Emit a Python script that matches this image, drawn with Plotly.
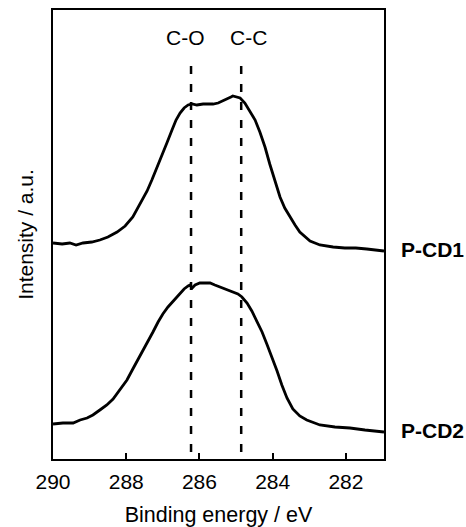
import plotly.graph_objects as go

# Binding energy (eV) and intensity (a.u.)
be_cd1 = [290.00, 289.75, 289.54, 289.37, 289.18, 288.94, 288.72, 288.50, 288.25, 288.03,
          287.82, 287.60, 287.43, 287.30, 287.16, 287.02, 286.89, 286.75, 286.64, 286.53,
          286.42, 286.31, 286.20, 286.07, 285.90, 285.77, 285.63, 285.49, 285.36, 285.22,
          285.14, 285.09, 285.00, 284.89, 284.76, 284.62, 284.48, 284.35, 284.21, 284.08,
          283.94, 283.80, 283.67, 283.53, 283.39, 283.26, 283.12, 282.98, 282.71, 282.35,
          282.03, 281.73, 281.43, 281.18, 280.96]
int_cd1 = [216, 215, 216, 214, 216, 217, 219, 222, 227, 233,
           242, 256, 268, 279, 291, 303, 316, 329, 339, 346,
           351, 354, 355, 354, 355, 355, 355, 356, 358, 360,
           362, 363, 362, 361, 356, 348, 339, 327, 312, 295,
           278, 262, 251, 242, 234, 227, 222, 218, 214, 212,
           211, 211, 210, 209, 208]

be_cd2 = [290.00, 289.73, 289.45, 289.26, 289.07, 288.91, 288.72, 288.53, 288.36, 288.17,
          287.98, 287.82, 287.62, 287.43, 287.27, 287.13, 287.00, 286.86, 286.72, 286.61,
          286.53, 286.42, 286.31, 286.26, 286.20, 286.12, 285.99, 285.85, 285.71, 285.58,
          285.44, 285.25, 285.09, 284.95, 284.84, 284.70, 284.57, 284.43, 284.29, 284.16,
          284.02, 283.88, 283.75, 283.61, 283.45, 283.26, 283.07, 282.71, 282.30, 281.89,
          281.48, 280.96]
int_cd2 = [35, 36, 36, 39, 41, 44, 49, 54, 60, 69,
           79, 90, 103, 116, 127, 137, 145, 152, 158, 163,
           166, 170, 173, 174, 171, 174, 176, 176, 176, 174,
           172, 170, 167, 165, 162, 156, 148, 138, 127, 115,
           102, 88, 74, 61, 50, 43, 39, 34, 32, 31,
           29, 27]

series_names = ["P-CD1", "P-CD2"]
series_label_y = [210, 29]

ref_energies = [286.23, 284.86]
ref_labels = ["C-O", "C-C"]
ref_label_x = [286.39, 284.67]

tick_vals = [290, 288, 286, 284, 282]
tick_text = ["290", "288", "286", "284", "282"]

FONT = "Liberation Sans, Arial, sans-serif"

fig = go.Figure()
for xs, ys in [(be_cd1, int_cd1), (be_cd2, int_cd2)]:
    fig.add_trace(go.Scatter(x=xs, y=ys, mode="lines",
                             line=dict(color="black", width=2.8),
                             showlegend=False, hoverinfo="skip"))

for e in ref_energies:
    fig.add_shape(type="line", xref="x", yref="y", x0=e, x1=e, y0=7, y1=399,
                  line=dict(color="black", width=2.5, dash="8px,10px"))

for lx, lt in zip(ref_label_x, ref_labels):
    fig.add_annotation(x=lx, y=422, xref="x", yref="y", text=lt, showarrow=False,
                       font=dict(family=FONT, size=21, color="black"))

for name, ly in zip(series_names, series_label_y):
    fig.add_annotation(x=1.044, y=ly, xref="paper", yref="y", text="<b>%s</b>" % name,
                       showarrow=False, xanchor="left",
                       font=dict(family=FONT, size=21, color="black"))

fig.update_layout(
    width=466, height=527,
    margin=dict(l=53, r=82, t=10, b=68),
    paper_bgcolor="white", plot_bgcolor="white",
    font=dict(family=FONT, size=21, color="black"),
)
fig.update_xaxes(range=[290, 280.96], tickvals=tick_vals, ticktext=tick_text,
                 ticks="inside", ticklen=6, tickwidth=2, tickcolor="black",
                 ticklabelstandoff=3, automargin=False,
                 showline=True, linecolor="black", linewidth=2, mirror=True,
                 showgrid=False, zeroline=False,
                 tickfont=dict(family=FONT, size=21, color="black"),
                 title=dict(text="Binding energy / eV", standoff=24,
                            font=dict(family=FONT, size=21.5, color="black")))
fig.update_yaxes(range=[0, 449], showticklabels=False, ticks="", automargin=False,
                 showline=True, linecolor="black", linewidth=2, mirror=True,
                 showgrid=False, zeroline=False,
                 title=dict(text="Intensity / a.u.", standoff=12,
                            font=dict(family=FONT, size=21, color="black")))

fig.write_html("out.html")
